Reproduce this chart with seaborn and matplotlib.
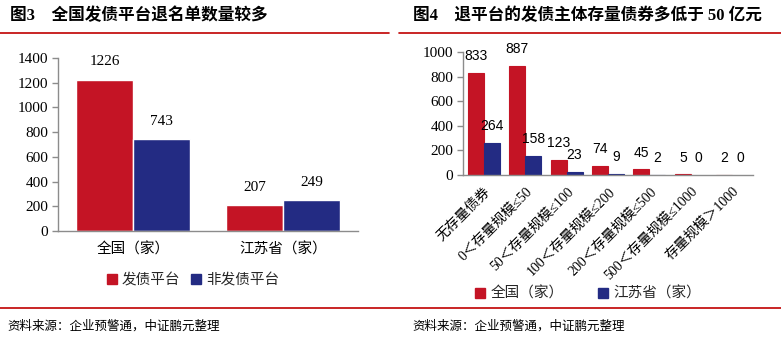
import matplotlib
matplotlib.use("Agg")
import matplotlib.pyplot as plt
import seaborn as sns
import pandas as pd
from matplotlib.lines import Line2D

sns.set_theme(style="white")
plt.rcParams["font.family"] = ["Noto Sans CJK SC", "DejaVu Sans"]

MIX = ["Liberation Serif", "Noto Sans CJK SC"]
RED = "#C41425"
BLUE = "#232B83"
AXIS_GRAY = "#8C8C8C"
LINE_RED = "#C00000"

# ---- data: platforms removed from the list ----
left_categories = ["全国（家）", "江苏省（家）"]
left_series = ["发债平台", "非发债平台"]
left_issuing = [1226, 207]
left_non_issuing = [743, 249]
left_yticks = [0, 200, 400, 600, 800, 1000, 1200, 1400]

# ---- data: outstanding bond size of removed issuers ----
right_categories = ["无存量债券", "0＜存量规模≤50", "50＜存量规模≤100",
                    "100＜存量规模≤200", "200＜存量规模≤500",
                    "500＜存量规模≤1000", "存量规模＞1000"]
right_series = ["全国（家）", "江苏省（家）"]
right_national = [833, 887, 123, 74, 45, 5, 2]
right_jiangsu = [264, 158, 23, 9, 2, 0, 0]
right_yticks = [0, 200, 400, 600, 800, 1000]

left_df = pd.DataFrame({
    "cat": left_categories * 2,
    "series": [left_series[0]] * 2 + [left_series[1]] * 2,
    "val": left_issuing + left_non_issuing,
})
right_df = pd.DataFrame({
    "cat": right_categories * 2,
    "series": [right_series[0]] * 7 + [right_series[1]] * 7,
    "val": right_national + right_jiangsu,
})

fig = plt.figure(figsize=(7.81, 3.40), dpi=100)

ax1 = fig.add_axes([58 / 781, 1 - 231 / 340, 300 / 781, 173 / 340])
ax2 = fig.add_axes([463 / 781, 1 - 175 / 340, 290 / 781, 123 / 340])


def style_axes(ax, yticks):
    for s in ["top", "right"]:
        ax.spines[s].set_visible(False)
    for s in ["left", "bottom"]:
        ax.spines[s].set_color(AXIS_GRAY)
        ax.spines[s].set_linewidth(1.0)
    ax.set_ylim(yticks[0], yticks[-1])
    ax.set_yticks(yticks)
    ax.set_yticklabels([str(t) for t in yticks], fontfamily="Liberation Serif",
                       fontsize=11, color="black")
    ax.tick_params(axis="y", direction="out", length=4, width=1,
                   color=AXIS_GRAY, pad=3, left=True)
    ax.tick_params(axis="x", length=0)
    ax.set_xlabel("")
    ax.set_ylabel("")


def outline_small_bars(ax):
    # keep very short non-zero bars visible as thin strips
    for p in ax.patches:
        if p.get_height() > 0:
            p.set_edgecolor(p.get_facecolor())
            p.set_linewidth(0.8)


sns.barplot(data=left_df, x="cat", y="val", hue="series", palette=[RED, BLUE],
            width=0.76, saturation=1, legend=False, ax=ax1)
style_axes(ax1, left_yticks)
ax1.set_xlim(-0.5, 1.5)
ax1.tick_params(axis="x", pad=8)
for lbl in ax1.get_xticklabels():
    lbl.set_fontsize(10.5)
    lbl.set_color("black")
for c in ax1.containers:
    ax1.bar_label(c, fmt="%d", padding=8, fontfamily="Liberation Serif",
                  fontsize=11, color="black")

sns.barplot(data=right_df, x="cat", y="val", hue="series", palette=[RED, BLUE],
            width=0.77, saturation=1, legend=False, ax=ax2)
style_axes(ax2, right_yticks)
outline_small_bars(ax2)
ax2.set_xlim(-0.5, 6.5)
ax2.set_xticks(range(len(right_categories)))
ax2.set_xticklabels(right_categories, rotation=45, ha="right",
                    rotation_mode="anchor", fontfamily=MIX, fontsize=10,
                    color="black")
ax2.tick_params(axis="x", pad=7)
for c in ax2.containers:
    ax2.bar_label(c, fmt="%d", padding=7, fontsize=10, color="black",
                  fontfamily="Liberation Sans")


def square(color):
    return Line2D([], [], marker="s", linestyle="none", markersize=7,
                  markerfacecolor=color, markeredgecolor=color)


fig.legend([square(RED), square(BLUE)], left_series, loc="center",
           bbox_to_anchor=(192 / 781, 1 - 280 / 340), ncol=2, frameon=False,
           fontsize=10.5, handletextpad=0.2, columnspacing=0.6,
           handlelength=1.0)
fig.legend([square(RED), square(BLUE)], right_series, loc="center",
           bbox_to_anchor=(587 / 781, 1 - 294 / 340), ncol=2, frameon=False,
           fontsize=10.5, handletextpad=0.2, columnspacing=2.2,
           handlelength=1.0)

# titles and rules
fig.text(10 / 781, 1 - 16 / 340, "图3    全国发债平台退名单数量较多",
         fontfamily=MIX, fontweight="bold", fontsize=12, va="center",
         ha="left", color="black")
fig.text(413 / 781, 1 - 16 / 340, "图4    退平台的发债主体存量债券多低于 50 亿元",
         fontfamily=MIX, fontweight="bold", fontsize=12, va="center",
         ha="left", color="black")
fig.add_artist(Line2D([0, 389 / 781], [1 - 33 / 340] * 2, color=LINE_RED,
                      linewidth=1.2))
fig.add_artist(Line2D([399 / 781, 1], [1 - 33 / 340] * 2, color=LINE_RED,
                      linewidth=1.2))
fig.add_artist(Line2D([0, 1], [1 - 308 / 340] * 2, color=LINE_RED,
                      linewidth=1.2))

fig.text(7 / 781, 1 - 326 / 340, "资料来源：企业预警通，中证鹏元整理",
         fontsize=9, va="center", ha="left", color="black")
fig.text(412 / 781, 1 - 326 / 340, "资料来源：企业预警通，中证鹏元整理",
         fontsize=9, va="center", ha="left", color="black")

fig.savefig("out.png", dpi=100, facecolor="white")
